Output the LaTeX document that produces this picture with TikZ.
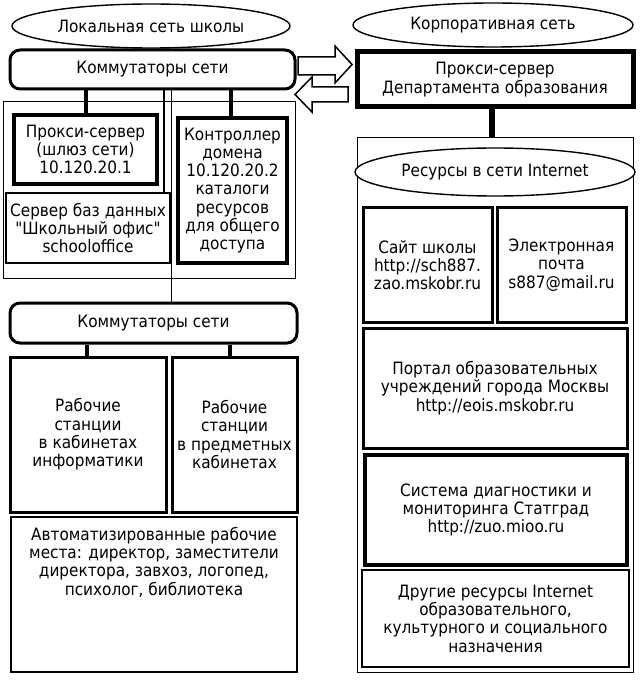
\documentclass[tikz,border=0pt]{standalone}
\usepackage{fontspec}
\newfontfamily\diafont{DejaVu Sans Condensed}
\usetikzlibrary{shapes.geometric}
\tikzset{
  every node/.style={font=\diafont\fontsize{17}{18.3}\selectfont, align=center, inner sep=0pt},
  oval/.style={ellipse, draw, line width=1.4pt},
  switchbox/.style={rectangle, rounded corners=10pt, draw, line width=3pt},
  heavybox/.style={rectangle, draw, line width=3.5pt},
  midbox/.style={rectangle, draw, line width=2pt},
  thinbox/.style={rectangle, draw, line width=1pt},
  heavyline/.style={line width=4pt},
  thinline/.style={line width=1.2pt},
  blockarrow/.style={draw, line width=1.5pt, fill=white},
}
\begin{document}
\begin{tikzpicture}[x=1pt,y=-1pt]
\useasboundingbox (0,0) rectangle (640,700);
% left side
\node[oval, minimum width=278pt, minimum height=44pt] (ell1) at (151,26) {Локальная сеть школы};
\node[switchbox, minimum width=285pt, minimum height=39pt] (sw1) at (152.5,69.5) {Коммутаторы сети};
\node[thinbox, minimum width=292pt, minimum height=176pt] (grp1) at (149,190) {};
\node[heavybox, minimum width=143pt, minimum height=69pt] (px) at (85.5,149.5) {Прокси-сервер\\(шлюз сети)\\10.120.20.1};
\node[heavybox, minimum width=109pt, minimum height=145pt] (dc) at (232.5,190.5) {Контроллер\\домена\\10.120.20.2\\каталоги\\ресурсов\\для общего\\доступа};
\node[midbox, minimum width=164pt, minimum height=70pt] (db) at (88,228) {Сервер баз данных\\"Школьный офис"\\schooloffice};
\node[switchbox, minimum width=287pt, minimum height=40pt] (sw2) at (153.5,323) {Коммутаторы сети};
\node[heavybox, line width=3pt, minimum width=156pt, minimum height=155pt] (ws1) at (88,434.5) {Рабочие\\станции\\в кабинетах\\информатики};
\node[heavybox, line width=3pt, minimum width=125pt, minimum height=155pt] (ws2) at (234.5,434.5) {Рабочие\\станции\\в предметных\\кабинетах};
\node[midbox, line width=2.5pt, minimum width=286pt, minimum height=155pt] (arm) at (154,594.5) {};
\node[anchor=north] (armtext) at ([yshift=-11pt]arm.north) {Автоматизированные рабочие\\места: директор, заместители\\директора, завхоз, логопед,\\психолог, библиотека};
% connectors left
\draw[heavyline] (px.north) -- (px.north |- sw1.south);
\draw[heavyline] ([xshift=-1.5pt]dc.north) -- ([xshift=-1.5pt]dc.north |- sw1.south);
\draw[thinline] ([xshift=-7pt]db.north east) -- ([xshift=-7pt]db.north east |- sw1.south);
\draw[thinline] ([xshift=163pt]sw1.south west) -- ([xshift=163pt]sw1.south west |- sw2.north);
\draw[heavyline] ([xshift=-1pt]ws1.north) -- ([xshift=-1pt]ws1.north |- sw2.south);
\draw[heavyline] ([xshift=-4.5pt]ws2.north) -- ([xshift=-4.5pt]ws2.north |- sw2.south);
% right side
\node[oval, minimum width=280pt, minimum height=44pt] (ell2) at (493,25) {Корпоративная сеть};
\node[rectangle, draw, line width=5pt, minimum width=276pt, minimum height=55pt] (pd) at (495,79.5) {Прокси-сервер\\Департамента образования};
\node[thinbox, minimum width=276pt, minimum height=534pt] (grp2) at (495,405) {};
\node[oval, fill=white, minimum width=280pt, minimum height=48pt] (ell3) at (495,172) {Ресурсы в сети Internet};
\node[heavybox, line width=3pt, minimum width=129pt, minimum height=114pt] (site) at (427.5,265) {Сайт школы\\http://sch887.\\zao.mskobr.ru};
\node[heavybox, line width=3pt, minimum width=129pt, minimum height=114pt] (mail) at (561.5,265) {Электронная\\почта\\s887@mail.ru};
\node[heavybox, line width=3pt, minimum width=264pt, minimum height=120pt] (portal) at (495,388) {Портал образовательных\\учреждений города Москвы\\http://eois.mskobr.ru};
\node[heavybox, line width=4pt, minimum width=262pt, minimum height=110pt] (stat) at (496,510) {Система диагностики и\\мониторинга Статград\\http://zuo.mioo.ru};
\node[rectangle, draw, line width=1.5pt, minimum width=267pt, minimum height=97pt] (other) at (495.5,618.5) {Другие ресурсы Internet\\образовательного,\\культурного и социального\\назначения};
\draw[line width=6pt] ([xshift=-3pt]pd.south) -- ([xshift=-3pt]pd.south |- grp2.north);
% block arrows
\draw[blockarrow] (298,57) -- (335,57) -- (335,46) -- (352,64.5) -- (335,83) -- (335,75) -- (298,75) -- cycle;
\draw[blockarrow] (348,87) -- (312,87) -- (312,77) -- (295,94.5) -- (312,112) -- (312,102) -- (348,102) -- cycle;
\end{tikzpicture}
\end{document}
